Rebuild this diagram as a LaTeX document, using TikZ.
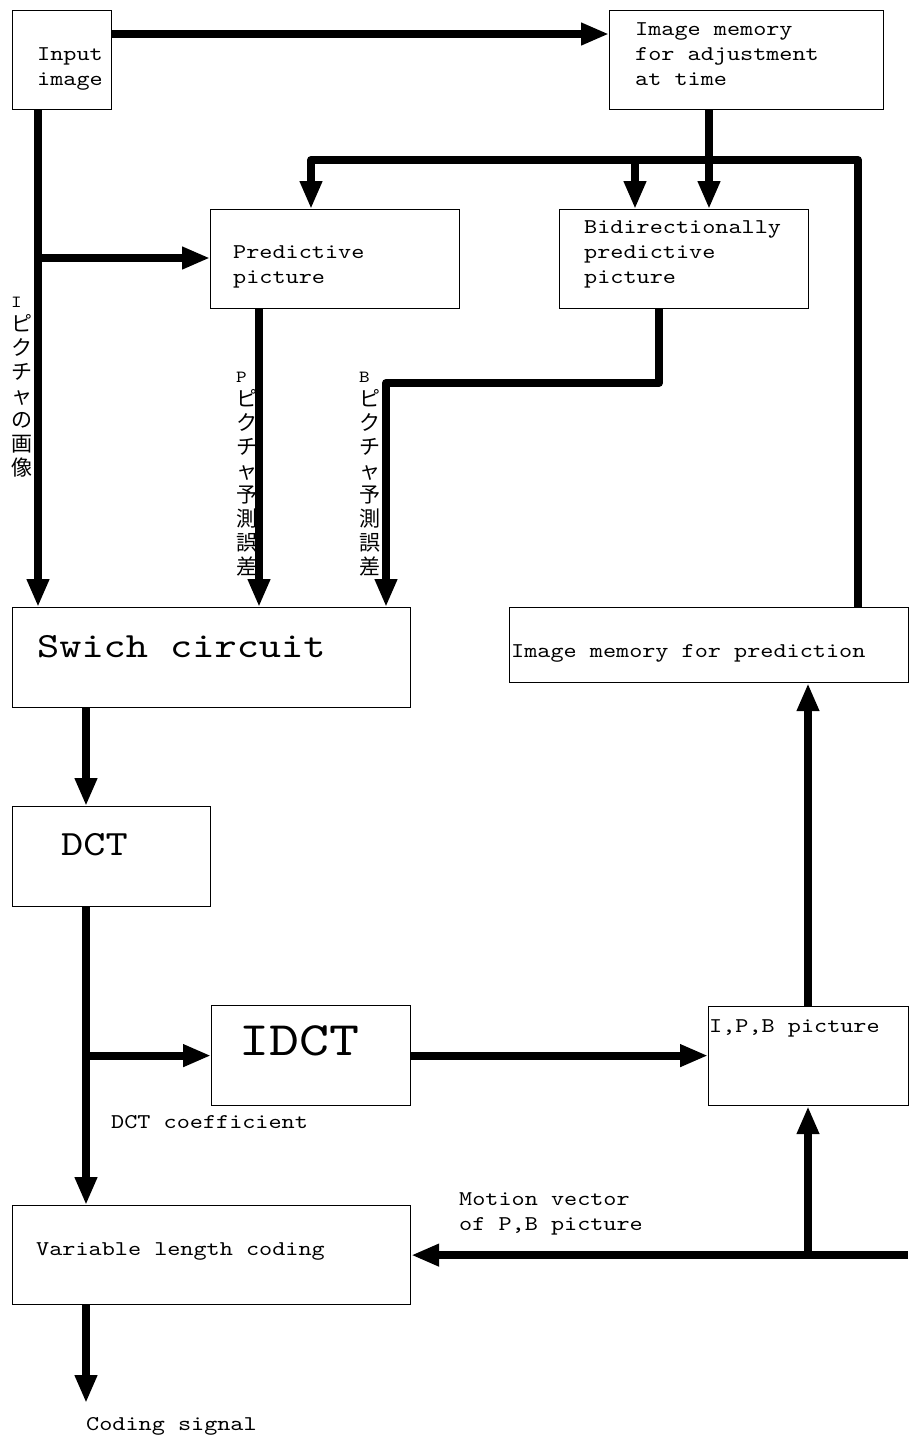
\documentclass[tikz,border=0pt]{standalone}
\usepackage{fontspec}
\setmonofont{lmmono10-regular.otf}[FakeStretch=1.19]
\newfontfamily\cjkfont{Noto Sans CJK JP}
\usetikzlibrary{arrows.meta}
% lines stacked at a fixed pitch, baseline on the first line
\newcommand{\stacklines}[2]{\vtop{\baselineskip=#1\lineskiplimit=-\maxdimen\let\\\cr\halign{##\hfil\cr#2\crcr}}}
\newcommand{\txtsize}{\fontsize{21pt}{25pt}\ttfamily}
\newcommand{\ltr}[1]{{\fontsize{17pt}{24pt}\ttfamily #1}}
\tikzset{
  blk/.style={draw, line width=1.2pt, anchor=north west, inner sep=0pt},
  txt/.style={anchor=base west, inner sep=0pt, font=\txtsize},
  bigtxt/.style={anchor=base west, inner sep=0pt, font=\fontsize{35.5pt}{40pt}\ttfamily},
  vtxt/.style={anchor=base west, inner sep=0pt, font=\fontsize{21pt}{24pt}\selectfont\cjkfont},
  flow/.style={line width=8pt, line join=round, -{Triangle[length=28pt,width=21pt]}}
}
\begin{document}
\begin{tikzpicture}[x=1pt, y=-1pt]
  \useasboundingbox (0,0) rectangle (909,1441);
  % blocks
  \node[blk, minimum width=99pt, minimum height=99pt] (inimg) at (12,10) {};
  \node[blk, minimum width=274pt, minimum height=99pt] (memadj) at (609,10) {};
  \node[blk, minimum width=249pt, minimum height=99pt] (pred) at (210,209) {};
  \node[blk, minimum width=249pt, minimum height=99pt] (bipred) at (559,209) {};
  \node[blk, minimum width=398pt, minimum height=100pt] (swich) at (12,607) {};
  \node[blk, minimum width=399pt, minimum height=75pt] (mempred) at (509,607) {};
  \node[blk, minimum width=198pt, minimum height=100pt] (dct) at (12,806) {};
  \node[blk, minimum width=199pt, minimum height=100pt] (idct) at (211,1005) {};
  \node[blk, minimum width=200pt, minimum height=99pt] (ipb) at (708,1006) {};
  \node[blk, minimum width=398pt, minimum height=99pt] (vlc) at (12,1205) {};
  % texts
  \node[txt] (inimg-t) at (37,60) {\stacklines{25pt}{Input\\image}};
  \node[txt] (memadj-t) at (635,35) {\stacklines{25pt}{Image memory\\for adjustment\\at time}};
  \node[txt] (pred-t) at (233,258) {\stacklines{25pt}{Predictive\\picture}};
  \node[txt] (bipred-t) at (584,233) {\stacklines{25pt}{Bidirectionally\\predictive\\picture}};
  \node[bigtxt] (swich-t) at (37,657) {Swich circuit};
  \node[txt] (mempred-t) at (511,657) {Image memory for prediction};
  \node[bigtxt] (dct-t) at (61,855) {DCT};
  \node[txt, font=\fontsize{48pt}{54pt}\ttfamily] (idct-t) at (239,1055) {IDCT};
  \node[txt] (ipb-t) at (709,1032) {I,P,B picture};
  \node[txt] (coef-t) at (111,1128) {DCT coefficient};
  \node[txt] (vlc-t) at (36,1255) {Variable length coding};
  \node[txt] (mv-t) at (459,1205) {\stacklines{25pt}{Motion vector\\of P,B picture}};
  \node[txt] (out-t) at (86,1430) {Coding signal};
  \node[vtxt] (i-lbl) at (11,307) {\stacklines{24pt}{\ltr{I}\\ピ\\ク\\チ\\ャ\\の\\画\\像}};
  \node[vtxt] (p-lbl) at (236,382) {\stacklines{24pt}{\ltr{P}\\ピ\\ク\\チ\\ャ\\予\\測\\誤\\差}};
  \node[vtxt] (b-lbl) at (359,382) {\stacklines{24pt}{\ltr{B}\\ピ\\ク\\チ\\ャ\\予\\測\\誤\\差}};
  % junctions
  \coordinate (in-fork) at (38,258);
  \coordinate (bus-r) at (858,160);
  \coordinate (bus-l) at (311,160);
  \coordinate (bus-b) at (635,160);
  \coordinate (adj-x) at (709,160);
  \coordinate (p-x) at (259,0);
  \coordinate (b-bend) at (659,383);
  \coordinate (b-x) at (386,383);
  \coordinate (dct-x) at (86,0);
  \coordinate (ipb-x) at (808,0);
  \coordinate (mv-in) at (908,0);
  \coordinate (out) at (86,1403);
  % connectors
  \draw[flow] ([yshift=-24pt]inimg.north east) -- ([yshift=-24pt]memadj.north west);
  \draw[flow] (inimg.south -| in-fork) -- (swich.north -| in-fork);
  \draw[flow] (in-fork) -- (pred.west |- in-fork);
  \draw[flow] (memadj.south -| adj-x) -- (bipred.north -| adj-x);
  \draw[flow] (mempred.north -| bus-r) -- (bus-r) -- (bus-l) -- (pred.north -| bus-l);
  \draw[flow] (bus-b) -- (bipred.north -| bus-b);
  \draw[flow] (pred.south -| p-x) -- (swich.north -| p-x);
  \draw[flow] (bipred.south -| b-bend) -- (b-bend) -- (b-x) -- (swich.north -| b-x);
  \draw[flow] (swich.south -| dct-x) -- (dct.north -| dct-x);
  \draw[flow] (dct.south -| dct-x) -- (vlc.north -| dct-x);
  \draw[flow] (dct-x |- idct.west) -- (idct.west);
  \draw[flow] (idct.east) -- (ipb.west |- idct.east);
  \draw[flow] (ipb.north -| ipb-x) -- (mempred.south -| ipb-x);
  \draw[flow] (vlc.east -| mv-in) -- (vlc.east);
  \draw[flow] (vlc.east -| ipb-x) -- (ipb.south -| ipb-x);
  \draw[flow] (vlc.south -| dct-x) -- (out);
\end{tikzpicture}
\end{document}
